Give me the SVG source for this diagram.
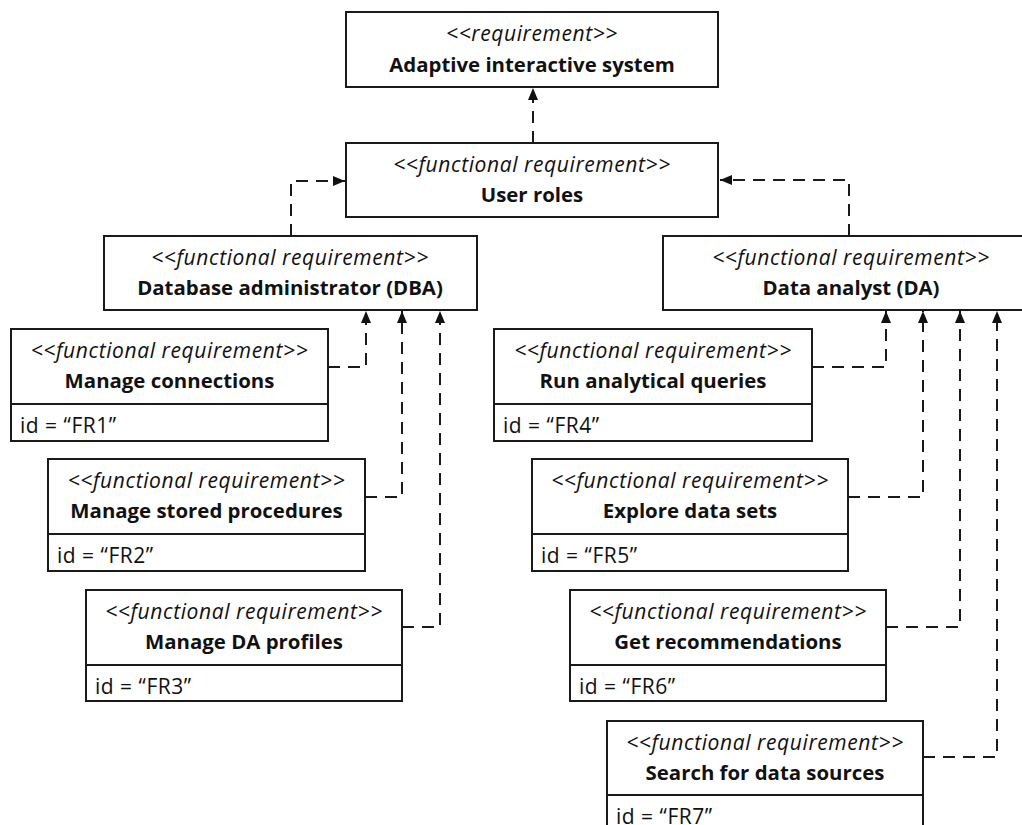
<svg xmlns="http://www.w3.org/2000/svg" width="1022" height="825" viewBox="0 0 1022 825">
  <style>
    .box { fill: #ffffff; stroke: #1a1a1a; stroke-width: 2; }
    .sep { stroke: #1a1a1a; stroke-width: 2; }
    .st { font-family: "Open Sans", Lato, sans-serif; font-style: italic; font-size: 21px; letter-spacing: 0.6px; fill: #111; text-anchor: middle; }
    .nm { font-family: "Open Sans", Lato, sans-serif; font-weight: bold; font-size: 20.4px; fill: #111; text-anchor: middle; }
    .id { font-family: "Open Sans", Lato, sans-serif; font-size: 21px; letter-spacing: 0.5px; fill: #111; }
    .dep { fill: none; stroke: #1a1a1a; stroke-width: 2; stroke-dasharray: 12 8; marker-end: url(#arrow); }
  </style>
  <defs>
    <marker id="arrow" markerUnits="userSpaceOnUse" markerWidth="13" markerHeight="11" refX="12" refY="5" orient="auto">
      <path d="M0,0 L12,5 L0,10 z" fill="#111" stroke="none"/>
    </marker>
  </defs>
  <rect width="1022" height="825" fill="#ffffff"/>

  <!-- dependency connectors -->
  <g id="connectors">
    <path class="dep" d="M533,143 V88"/>
    <path class="dep" d="M291,236 V181 H345"/>
    <path class="dep" d="M849,236 V180 H720"/>
    <path class="dep" d="M328,367 H366 V311"/>
    <path class="dep" d="M365,497 H402 V311"/>
    <path class="dep" d="M402,627 H440 V311"/>
    <path class="dep" d="M812,367 H886 V311"/>
    <path class="dep" d="M848,497 H923 V311"/>
    <path class="dep" d="M886,627 H960 V311"/>
    <path class="dep" d="M923,757 H997 V311"/>
  </g>

  <g id="adaptive-system">
    <rect class="box" x="346" y="12" width="372" height="75"/>
    <text class="st" x="532" y="41">&lt;&lt;requirement&gt;&gt;</text>
    <text class="nm" x="532" y="72">Adaptive interactive system</text>
  </g>

  <g id="user-roles">
    <rect class="box" x="346" y="143" width="372" height="74"/>
    <text class="st" x="532" y="172">&lt;&lt;functional requirement&gt;&gt;</text>
    <text class="nm" x="532" y="202">User roles</text>
  </g>

  <g id="dba">
    <rect class="box" x="104" y="236" width="373" height="74"/>
    <text class="st" x="290" y="265">&lt;&lt;functional requirement&gt;&gt;</text>
    <text class="nm" x="290" y="295">Database administrator (DBA)</text>
  </g>

  <g id="da">
    <rect class="box" x="663" y="236" width="376" height="74"/>
    <text class="st" x="851" y="265">&lt;&lt;functional requirement&gt;&gt;</text>
    <text class="nm" x="851" y="295">Data analyst (DA)</text>
  </g>

  <g id="fr1">
    <rect class="box" x="11" y="329" width="317" height="112"/>
    <line class="sep" x1="11" y1="404" x2="328" y2="404"/>
    <text class="st" x="169.5" y="358">&lt;&lt;functional requirement&gt;&gt;</text>
    <text class="nm" x="169.5" y="388">Manage connections</text>
    <text class="id" x="20" y="433">id = “FR1”</text>
  </g>

  <g id="fr2">
    <rect class="box" x="48" y="459" width="317" height="112"/>
    <line class="sep" x1="48" y1="534" x2="365" y2="534"/>
    <text class="st" x="206.5" y="488">&lt;&lt;functional requirement&gt;&gt;</text>
    <text class="nm" x="206.5" y="518">Manage stored procedures</text>
    <text class="id" x="57" y="563">id = “FR2”</text>
  </g>

  <g id="fr3">
    <rect class="box" x="86" y="590" width="316" height="111"/>
    <line class="sep" x1="86" y1="665" x2="402" y2="665"/>
    <text class="st" x="244" y="619">&lt;&lt;functional requirement&gt;&gt;</text>
    <text class="nm" x="244" y="649">Manage DA profiles</text>
    <text class="id" x="95" y="694">id = “FR3”</text>
  </g>

  <g id="fr4">
    <rect class="box" x="494" y="329" width="318" height="112"/>
    <line class="sep" x1="494" y1="404" x2="812" y2="404"/>
    <text class="st" x="653" y="358">&lt;&lt;functional requirement&gt;&gt;</text>
    <text class="nm" x="653" y="388">Run analytical queries</text>
    <text class="id" x="503" y="433">id = “FR4”</text>
  </g>

  <g id="fr5">
    <rect class="box" x="532" y="459" width="316" height="112"/>
    <line class="sep" x1="532" y1="534" x2="848" y2="534"/>
    <text class="st" x="690" y="488">&lt;&lt;functional requirement&gt;&gt;</text>
    <text class="nm" x="690" y="518">Explore data sets</text>
    <text class="id" x="541" y="563">id = “FR5”</text>
  </g>

  <g id="fr6">
    <rect class="box" x="570" y="590" width="316" height="111"/>
    <line class="sep" x1="570" y1="665" x2="886" y2="665"/>
    <text class="st" x="728" y="619">&lt;&lt;functional requirement&gt;&gt;</text>
    <text class="nm" x="728" y="649">Get recommendations</text>
    <text class="id" x="579" y="694">id = “FR6”</text>
  </g>

  <g id="fr7">
    <rect class="box" x="607" y="721" width="316" height="130"/>
    <line class="sep" x1="607" y1="795" x2="923" y2="795"/>
    <text class="st" x="765" y="750">&lt;&lt;functional requirement&gt;&gt;</text>
    <text class="nm" x="765" y="780">Search for data sources</text>
    <text class="id" x="616" y="824">id = “FR7”</text>
  </g>
</svg>
